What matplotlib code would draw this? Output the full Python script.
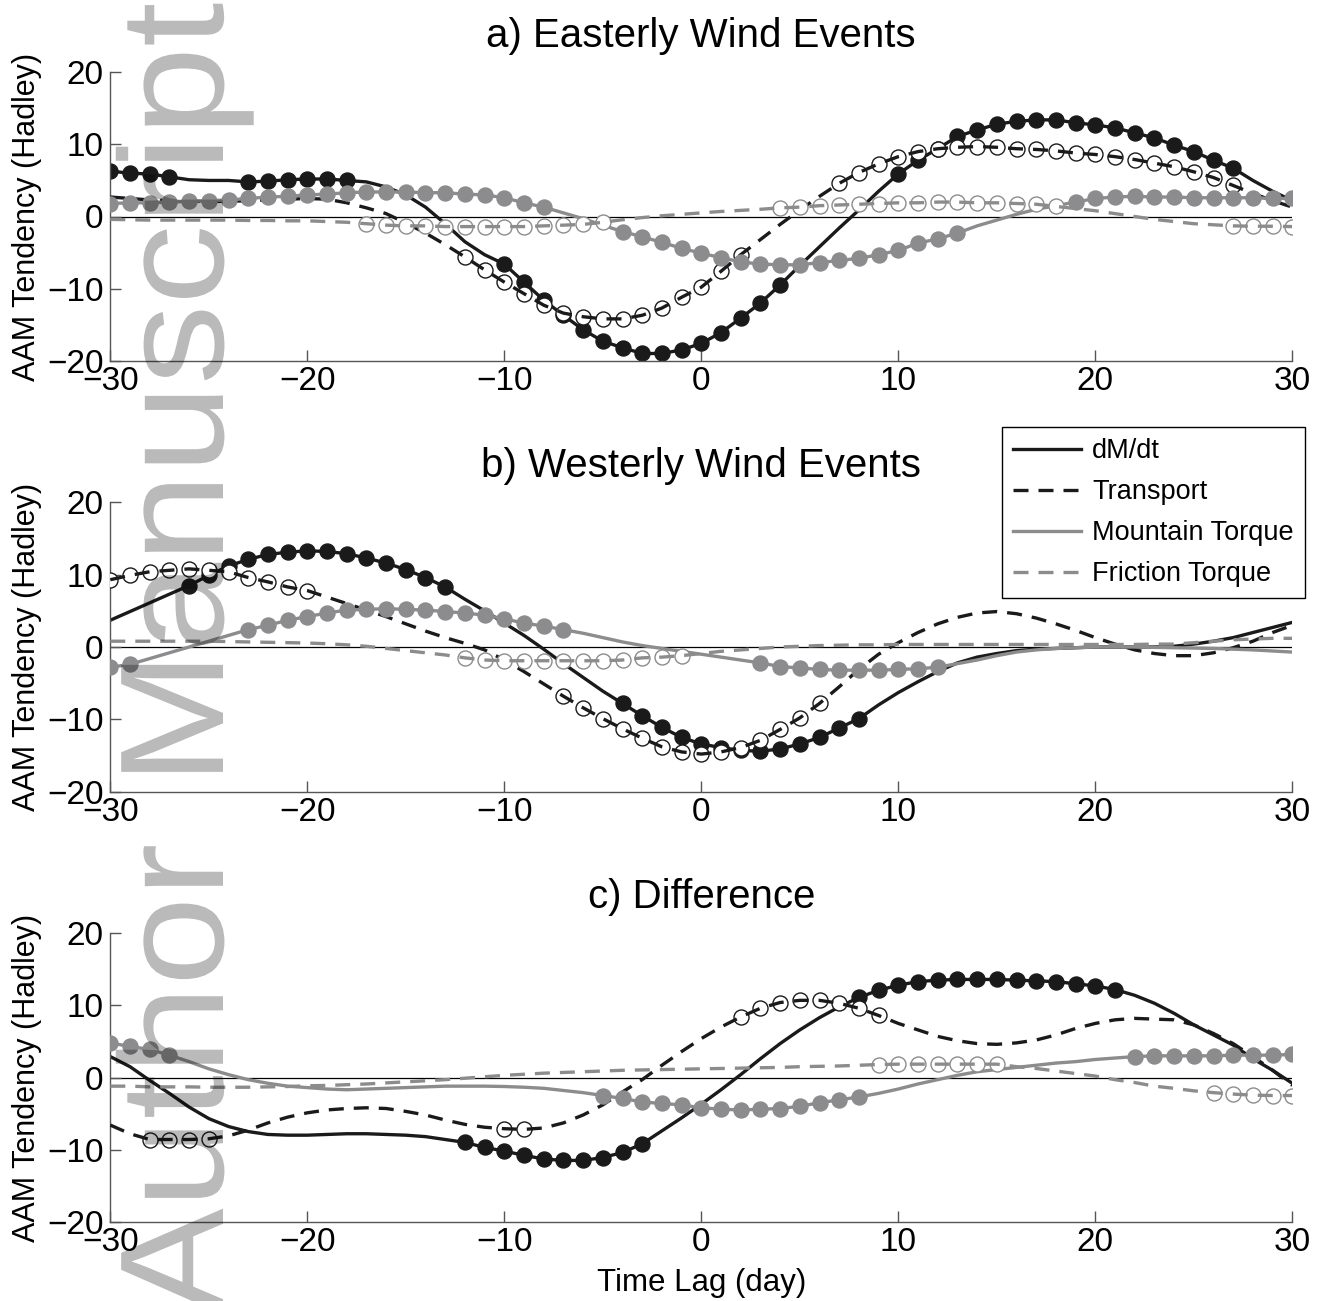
import numpy as np
import matplotlib
matplotlib.use('Agg')
import matplotlib.pyplot as plt
from matplotlib.textpath import TextPath
from matplotlib.patches import PathPatch
from matplotlib.font_manager import FontProperties
from matplotlib.transforms import Affine2D, IdentityTransform

plt.rcParams['font.family'] = ['Liberation Sans', 'DejaVu Sans']

#__________________________________________________________________
# Datos (lag diario, -30 .. 30)

lags = np.arange(-30, 31)

# a) Easterly Wind Events
a_dmdt = [6.3, 6.0, 5.9, 5.5, 5.1, 5.0, 5.0, 4.8, 4.9, 5.1, 5.2, 5.2, 5.0, 4.8, 4.1, 3.0,
          1.3, -1.0, -3.5, -5.3, -6.6, -9.1, -11.6, -13.7, -15.7, -17.3, -18.2, -19.0, -19.0,
          -18.5, -17.6, -16.1, -14.1, -12.0, -9.5, -6.8, -4.2, -1.6, 0.9, 3.5, 5.9, 7.8, 9.4,
          11.1, 12.0, 12.8, 13.2, 13.4, 13.4, 13.0, 12.7, 12.3, 11.6, 10.9, 9.9, 9.0, 7.8,
          6.7, 5.0, 3.5, 2.2]
a_transport = [2.7, 2.5, 2.3, 2.2, 2.1, 2.1, 2.1, 2.2, 2.3, 2.4, 2.5, 2.4, 1.9, 1.2, 0.4,
               -0.9, -2.3, -3.9, -5.6, -7.4, -9.1, -10.7, -12.3, -13.4, -13.9, -14.2, -14.2,
               -13.7, -12.7, -11.2, -9.8, -7.6, -5.3, -3.2, -1.1, 0.9, 2.8, 4.6, 6.1, 7.3, 8.3,
               9.0, 9.4, 9.6, 9.7, 9.6, 9.4, 9.3, 9.1, 8.8, 8.6, 8.3, 7.9, 7.4, 6.9, 6.2, 5.4,
               4.3, 3.2, 2.2, 1.3]
a_mountain = [1.8, 1.9, 1.9, 2.0, 2.1, 2.2, 2.3, 2.5, 2.7, 2.8, 3.0, 3.1, 3.3, 3.4, 3.4, 3.4,
              3.3, 3.3, 3.1, 3.0, 2.6, 1.9, 1.3, 0.5, -0.3, -1.2, -2.1, -2.8, -3.6, -4.4, -5.1,
              -5.7, -6.3, -6.6, -6.7, -6.7, -6.4, -6.1, -5.8, -5.3, -4.7, -3.7, -3.1, -2.3,
              -1.3, -0.5, 0.3, 1.0, 1.5, 2.0, 2.5, 2.7, 2.8, 2.7, 2.7, 2.6, 2.6, 2.6, 2.6, 2.5,
              2.5]
a_friction = [-0.4, -0.45, -0.5, -0.5, -0.5, -0.5, -0.5, -0.55, -0.55, -0.6, -0.6, -0.7, -0.8,
              -1.0, -1.2, -1.3, -1.3, -1.4, -1.4, -1.4, -1.4, -1.4, -1.3, -1.2, -1.1, -0.8,
              -0.45, -0.15, 0.1, 0.3, 0.5, 0.7, 0.85, 1.0, 1.2, 1.3, 1.5, 1.6, 1.7, 1.8, 1.9,
              1.9, 2.0, 2.0, 1.9, 1.9, 1.8, 1.7, 1.4, 1.1, 0.8, 0.4, 0.0, -0.4, -0.7, -1.0,
              -1.15, -1.3, -1.35, -1.35, -1.4]
a_dmdt_sig = [(-30, -27), (-23, -18), (-10, 4), (10, 27)]
a_transport_sig = [(-12, 2), (7, 27)]
a_mountain_sig = [(-30, -8), (-4, 13), (19, 30)]
a_friction_sig = [(-17, -5), (4, 18), (27, 30)]

# b) Westerly Wind Events
b_dmdt = [3.7, 4.9, 6.1, 7.3, 8.5, 9.9, 11.2, 12.1, 12.8, 13.1, 13.3, 13.2, 12.9, 12.3, 11.6,
          10.7, 9.6, 8.3, 6.6, 5.0, 3.3, 1.6, -0.3, -2.3, -4.2, -6.1, -7.8, -9.5, -11.1, -12.5,
          -13.4, -13.9, -14.3, -14.4, -14.1, -13.4, -12.5, -11.2, -9.9, -8.0, -6.3, -4.8,
          -3.4, -2.2, -1.4, -0.9, -0.5, -0.3, -0.2, -0.1, 0.0, 0.0, 0.0, 0.0, 0.1, 0.4, 0.8,
          1.3, 2.0, 2.7, 3.4]
b_transport = [9.3, 9.9, 10.4, 10.6, 10.8, 10.6, 10.4, 9.6, 9.0, 8.3, 7.8, 6.9, 6.0, 5.1, 4.2,
               3.2, 2.2, 1.3, 0.5, -0.4, -1.8, -3.4, -5.1, -6.8, -8.4, -9.9, -11.3, -12.6,
               -13.8, -14.5, -14.8, -14.5, -13.9, -12.9, -11.4, -9.8, -7.8, -5.5, -3.1, -1.0,
               0.6, 2.0, 3.2, 4.1, 4.7, 4.9, 4.6, 4.0, 3.2, 2.3, 1.3, 0.4, -0.4, -0.9, -1.2,
               -1.2, -0.8, -0.1, 0.8, 2.0, 3.0]
b_mountain = [-2.8, -2.4, -1.6, -0.8, 0.0, 0.8, 1.6, 2.4, 3.0, 3.7, 4.2, 4.7, 5.1, 5.2, 5.3,
              5.2, 5.1, 4.9, 4.7, 4.4, 3.9, 3.3, 2.9, 2.4, 1.9, 1.3, 0.7, 0.2, -0.2, -0.6, -1.0,
              -1.4, -1.8, -2.2, -2.7, -2.9, -3.1, -3.2, -3.2, -3.2, -3.1, -3.0, -2.8, -2.3,
              -1.8, -1.2, -0.7, -0.4, -0.2, -0.1, 0.0, 0.0, 0.0, -0.05, -0.1, -0.15, -0.2,
              -0.3, -0.4, -0.55, -0.7]
b_friction = [0.8, 0.8, 0.8, 0.8, 0.8, 0.8, 0.75, 0.7, 0.65, 0.6, 0.55, 0.45, 0.3, 0.1, -0.2,
              -0.5, -0.8, -1.1, -1.5, -1.8, -1.9, -1.9, -1.9, -1.9, -1.9, -1.9, -1.8, -1.5,
              -1.4, -1.2, -0.9, -0.6, -0.4, -0.2, 0.0, 0.1, 0.2, 0.25, 0.3, 0.3, 0.35, 0.35,
              0.35, 0.35, 0.35, 0.35, 0.35, 0.35, 0.35, 0.35, 0.35, 0.35, 0.35, 0.4, 0.4, 0.6,
              0.8, 1.0, 1.1, 1.2, 1.2]
b_dmdt_sig = [(-26, -13), (-4, 8)]
b_transport_sig = [(-30, -20), (-7, 6)]
b_mountain_sig = [(-30, -29), (-23, -7), (3, 12)]
b_friction_sig = [(-12, -1)]

# c) Difference
c_dmdt = [2.9, 1.5, -0.4, -2.2, -4.1, -5.7, -6.8, -7.5, -7.9, -8.0, -8.0, -7.9, -7.8, -7.8,
          -7.9, -8.0, -8.2, -8.6, -9.0, -9.7, -10.2, -10.8, -11.3, -11.5, -11.5, -11.1, -10.4,
          -9.2, -7.4, -5.6, -3.7, -1.7, 0.4, 2.6, 4.7, 6.6, 8.3, 9.8, 11.1, 12.1, 12.8, 13.3,
          13.5, 13.6, 13.6, 13.6, 13.5, 13.4, 13.3, 13.0, 12.7, 12.2, 11.4, 10.3, 8.9, 7.3,
          5.9, 4.5, 2.6, 1.0, -0.8]
c_transport = [-6.6, -7.8, -8.6, -8.6, -8.6, -8.5, -8.1, -7.3, -6.3, -5.5, -4.9, -4.5, -4.3,
               -4.2, -4.3, -4.7, -5.2, -5.9, -6.5, -6.9, -7.1, -7.2, -7.0, -6.3, -5.2, -3.8,
               -2.0, -0.3, 1.7, 3.6, 5.4, 7.0, 8.4, 9.6, 10.4, 10.7, 10.7, 10.3, 9.6, 8.6, 7.5,
               6.6, 5.7, 5.1, 4.7, 4.6, 4.8, 5.2, 5.9, 6.8, 7.5, 8.0, 8.2, 8.1, 8.0, 7.3, 6.1,
               4.7, 2.9, 1.0, -1.1]
c_mountain = [4.8, 4.3, 3.9, 3.1, 2.2, 1.2, 0.4, -0.3, -0.8, -1.2, -1.4, -1.6, -1.7, -1.6,
              -1.5, -1.4, -1.3, -1.2, -1.2, -1.2, -1.25, -1.35, -1.5, -1.8, -2.1, -2.5, -2.9,
              -3.4, -3.6, -3.8, -4.2, -4.4, -4.5, -4.4, -4.3, -4.0, -3.5, -3.1, -2.7, -2.2,
              -1.6, -0.9, -0.3, 0.3, 0.8, 1.1, 1.4, 1.7, 2.0, 2.2, 2.5, 2.7, 2.9, 3.0, 3.0, 3.0,
              3.0, 3.1, 3.1, 3.1, 3.2]
c_friction = [-1.2, -1.2, -1.3, -1.3, -1.3, -1.35, -1.35, -1.35, -1.3, -1.25, -1.15, -1.1,
              -1.0, -0.9, -0.75, -0.6, -0.45, -0.3, -0.1, 0.1, 0.3, 0.45, 0.6, 0.7, 0.8, 0.9,
              1.0, 1.05, 1.1, 1.15, 1.2, 1.25, 1.3, 1.35, 1.4, 1.5, 1.55, 1.6, 1.7, 1.8, 1.85,
              1.85, 1.85, 1.85, 1.85, 1.85, 1.5, 1.25, 0.9, 0.55, 0.2, -0.3, -0.7, -1.2, -1.5,
              -1.85, -2.1, -2.3, -2.45, -2.5, -2.5]
c_dmdt_sig = [(-12, -3), (8, 21)]
c_transport_sig = [(-28, -25), (-10, -9), (2, 9)]
c_mountain_sig = [(-30, -27), (-5, 8), (22, 30)]
c_friction_sig = [(9, 15), (26, 30)]

titles = ['a) Easterly Wind Events', 'b) Westerly Wind Events', 'c) Difference']
names = ['dM/dt', 'Transport', 'Mountain Torque', 'Friction Torque']

#__________________________________________________________________
# Estilos

BLACK = '#1a1a1a'
GRAY = '#8c8c8e'
STYLES = [
    dict(color=BLACK, ls='-', mfc=BLACK, mec=BLACK),
    dict(color=BLACK, ls='--', mfc='white', mec=BLACK),
    dict(color=GRAY, ls='-', mfc=GRAY, mec=GRAY),
    dict(color=GRAY, ls='--', mfc='white', mec=GRAY),
]


def sig_mask(ranges):
    mask = np.zeros(len(lags), dtype=bool)
    for lo, hi in ranges:
        mask |= (lags >= lo) & (lags <= hi)
    return mask


def draw_panel(ax, series, sigs, title):
    ax.axhline(0, color='k', lw=0.9, zorder=1)
    for k, (vals, sig, st, name) in enumerate(zip(series, sigs, STYLES, names)):
        y = np.array(vals)
        m = sig_mask(sig)
        z = 2 + k
        ax.plot(lags[m], y[m], ls='none', marker='o', ms=10.8, mfc=st['mfc'],
                mec=st['mec'], mew=1.0, zorder=z)
        line, = ax.plot(lags, y, color=st['color'], lw=2.4, zorder=z + 0.5, label=name)
        if st['ls'] == '--':
            line.set_dashes((4.5, 3))

    ax.set_xlim(-30, 30)
    ax.set_ylim(-20, 20)
    ax.set_xticks(range(-30, 31, 10))
    ax.set_yticks(range(-20, 21, 10))
    for s in ['top', 'right']:
        ax.spines[s].set_visible(False)
    for s in ['left', 'bottom']:
        ax.spines[s].set_color('#555555')
        ax.spines[s].set_linewidth(1.0)
    ax.tick_params(direction='in', length=8, width=1.0, color='#555555', labelsize=24)
    ax.tick_params(axis='x', pad=4)
    ax.tick_params(axis='y', pad=5)
    ax.set_title(title, fontsize=29, pad=18)
    ax.set_ylabel('AAM Tendency (Hadley)', fontsize=22)
    ax.yaxis.set_label_coords(-0.0575, 0.5)


def add_watermark(fig, word, start_px, H):
    # texto vertical, se lee de abajo hacia arriba; start_px = borde inferior (px desde arriba)
    tp = TextPath((0, 0), word, size=1, prop=FontProperties(family='Liberation Sans'))
    tr = Affine2D().scale(160, 148).rotate_deg(90).translate(223, H - start_px)
    patch = PathPatch(tp, transform=tr + IdentityTransform(), facecolor='k',
                      edgecolor='none', alpha=0.27, zorder=10)
    fig.add_artist(patch)


#__________________________________________________________________
# Figura

def main():
    W, H = 1327, 1301
    fig = plt.figure(figsize=(W / 100, H / 100), dpi=100)

    left, right = 110.3 / W, 1292.3 / W
    boxes = [(72.3, 360.7), (502.3, 791.7), (933.3, 1221.7)]
    panels = [
        ([a_dmdt, a_transport, a_mountain, a_friction],
         [a_dmdt_sig, a_transport_sig, a_mountain_sig, a_friction_sig]),
        ([b_dmdt, b_transport, b_mountain, b_friction],
         [b_dmdt_sig, b_transport_sig, b_mountain_sig, b_friction_sig]),
        ([c_dmdt, c_transport, c_mountain, c_friction],
         [c_dmdt_sig, c_transport_sig, c_mountain_sig, c_friction_sig]),
    ]

    axes = []
    for (top, bot), (series, sigs), title in zip(boxes, panels, titles):
        ax = fig.add_axes([left, 1 - bot / H, right - left, (bot - top) / H])
        draw_panel(ax, series, sigs, title)
        axes.append(ax)

    axes[2].set_xlabel('Time Lag (day)', fontsize=22.5)
    axes[2].xaxis.set_label_coords(0.5, -0.16)

    leg = axes[1].legend(loc='upper right', bbox_to_anchor=(1305 / W, 1 - 427 / H),
                         bbox_transform=fig.transFigure, fontsize=19.5, handlelength=2.5,
                         handletextpad=0.4, labelspacing=0.55, borderpad=0.42,
                         borderaxespad=0, fancybox=False, framealpha=1)
    leg.get_frame().set_edgecolor('k')
    leg.get_frame().set_linewidth(1.0)

    # marca de agua
    add_watermark(fig, 'Author', 1315, H)
    add_watermark(fig, 'Manuscript', 785, H)

    fig.savefig('out.png', dpi=100)


main()
